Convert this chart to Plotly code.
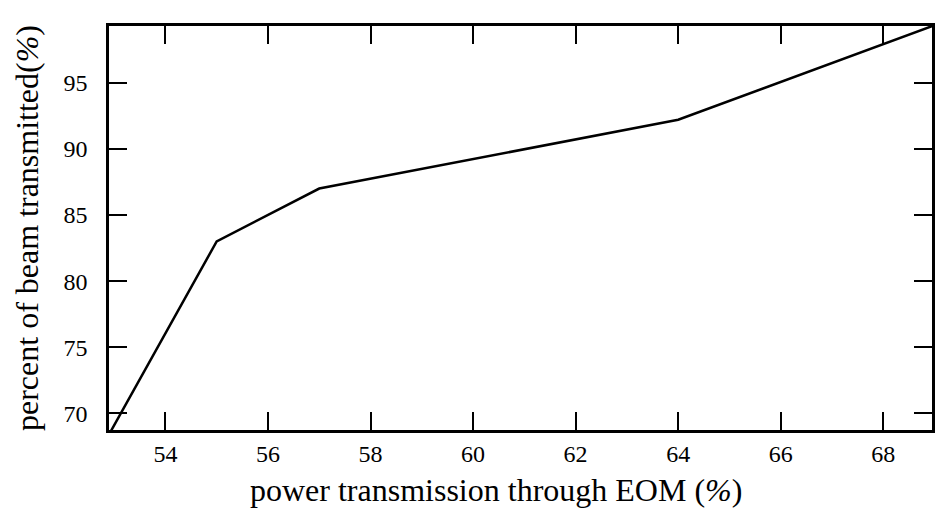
import plotly.graph_objects as go

x_power = [52.9, 55, 57, 64, 69]
y_percent = [68.4, 83.0, 87.0, 92.2, 99.35]
x_ticks = [54, 56, 58, 60, 62, 64, 66, 68]
y_ticks = [70, 75, 80, 85, 90, 95]
x_title = "power transmission through EOM (<i>%</i>)"
y_title = "percent of beam transmitted(<i>%</i>)"

font_family = "Liberation Serif"

fig = go.Figure()
fig.add_trace(go.Scatter(x=x_power, y=y_percent, mode="lines",
                         line=dict(color="black", width=2.5), showlegend=False))

fig.update_layout(
    width=935, height=521,
    margin=dict(l=109, r=0, t=26, b=91),
    paper_bgcolor="white", plot_bgcolor="white",
    font=dict(family=font_family, color="black", size=24),
    xaxis=dict(
        range=[52.90, 68.95], tickmode="array", tickvals=x_ticks,
        showgrid=False, zeroline=False, showline=True, linecolor="black", linewidth=2.5,
        mirror="ticks", ticks="inside", ticklen=18, tickwidth=2, tickcolor="black",
        tickfont=dict(size=24, family=font_family),
    ),
    yaxis=dict(
        range=[68.74, 99.29], tickmode="array", tickvals=y_ticks,
        showgrid=False, zeroline=False, showline=True, linecolor="black", linewidth=2.5,
        mirror="ticks", ticks="inside", ticklen=18, tickwidth=2, tickcolor="black",
        tickfont=dict(size=24, family=font_family), ticklabelstandoff=14,
        title=dict(text=y_title, font=dict(size=32, family=font_family), standoff=16),
    ),
    annotations=[dict(
        text=x_title, xref="paper", yref="paper", x=0.4697, y=-0.1485,
        xanchor="center", yanchor="middle", showarrow=False,
        font=dict(size=32, family=font_family, color="black"),
    )],
)

fig.write_html("out.html")
